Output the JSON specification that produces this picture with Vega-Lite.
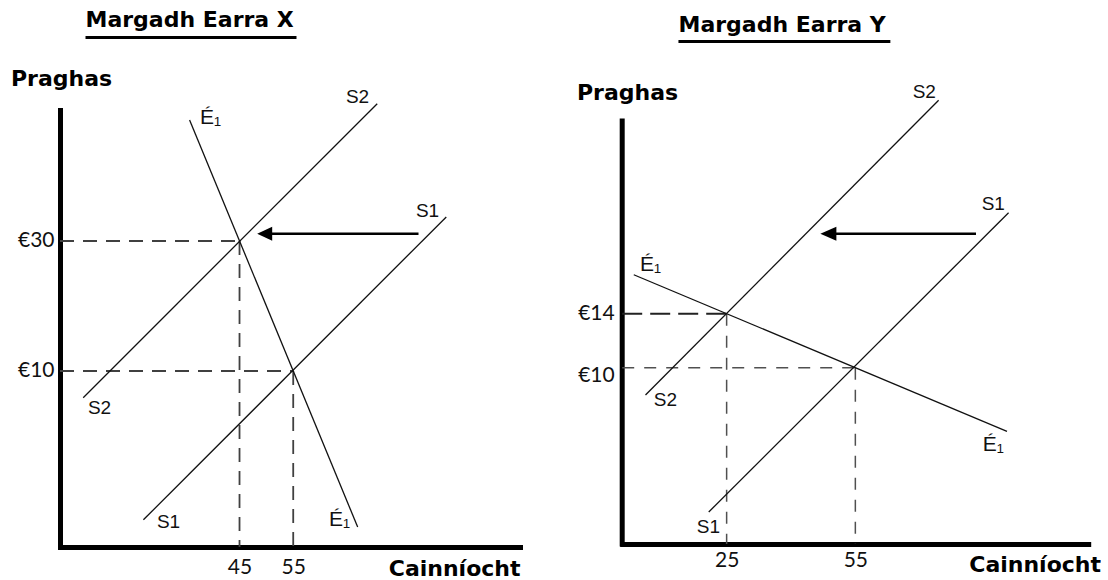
{
  "$schema": "https://vega.github.io/schema/vega-lite/v6.json",
  "background": "white",
  "padding": {"left": 10, "top": 8, "right": 0, "bottom": 0},
  "bounds": "flush",
  "spacing": 102.2,
  "config": {"view": {"stroke": null}},
  "datasets": {
    "curvesX": [
      {"line": "S2", "q": 15.89, "p": 5.89}, {"line": "S2", "q": 70.64, "p": 51.12},
      {"line": "S1", "q": 27.1, "p": -12.9}, {"line": "S1", "q": 83.5, "p": 33.7},
      {"line": "E1", "q": 35.7, "p": 48.6}, {"line": "E1", "q": 67.0, "p": -14.0}
    ],
    "guidesX": [
      {"line": "h30", "q": 11.57, "p": 30}, {"line": "h30", "q": 45, "p": 30},
      {"line": "v45", "q": 45, "p": 30}, {"line": "v45", "q": 45, "p": -17.08},
      {"line": "h10", "q": 11.57, "p": 10}, {"line": "h10", "q": 55, "p": 10},
      {"line": "v55", "q": 55, "p": 10}, {"line": "v55", "q": 55, "p": -17.08}
    ],
    "arrowX": [{"q": 78.33, "p": 31.12, "end": "tail"}, {"q": 49.69, "p": 31.12, "end": "head"}],
    "labelsX": [
      {"text": "É₁", "q": 39.6, "p": 48.92, "kind": "E"},
      {"text": "S2", "q": 66.97, "p": 52.15, "kind": "S"},
      {"text": "S1", "q": 80.01, "p": 34.62, "kind": "S"},
      {"text": "S2", "q": 18.93, "p": 4.31, "kind": "S"},
      {"text": "S1", "q": 31.78, "p": -13.23, "kind": "S"},
      {"text": "É₁", "q": 63.62, "p": -12.92, "kind": "E"}
    ],
    "underlineX": [{"q": 16.32, "q2": 55.61, "p": 61.31}],
    "curvesY": [
      {"line": "S2", "q": 6.09, "p": 7.98}, {"line": "S2", "q": 74.41, "p": 29.81},
      {"line": "S1", "q": 20.83, "p": -0.69}, {"line": "S1", "q": 90.71, "p": 21.48},
      {"line": "E1", "q": 3.36, "p": 16.885}, {"line": "E1", "q": 90.34, "p": 5.29}
    ],
    "guidesY": [
      {"line": "h14", "q": 0.66, "p": 14}, {"line": "h14", "q": 25, "p": 14},
      {"line": "v25", "q": 25, "p": 14}, {"line": "v25", "q": 25, "p": -3.06},
      {"line": "h10", "q": 0.66, "p": 10}, {"line": "h10", "q": 55, "p": 10},
      {"line": "v55", "q": 55, "p": 10}, {"line": "v55", "q": 55, "p": -3.06}
    ],
    "arrowY": [{"q": 83.12, "p": 19.93, "end": "tail"}, {"q": 48.71, "p": 19.93, "end": "head"}],
    "labelsY": [
      {"text": "S2", "q": 71.07, "p": 30.42, "kind": "S"},
      {"text": "S1", "q": 87.15, "p": 22.13, "kind": "S"},
      {"text": "É₁", "q": 7.25, "p": 17.61, "kind": "E"},
      {"text": "S2", "q": 10.74, "p": 7.61, "kind": "S"},
      {"text": "É₁", "q": 87.15, "p": 4.27, "kind": "E"},
      {"text": "S1", "q": 20.76, "p": -1.8, "kind": "S"}
    ],
    "underlineY": [{"q": 13.77, "q2": 63.16, "p": 34.16}],
    "axisLineY": [{"q": 0.66, "p": -3.06, "p2": 28.27}]
  },
  "hconcat": [
    {
      "width": 460,
      "height": 437,
      "title": {"text": "Margadh Earra X", "anchor": "start", "frame": "group", "dx": 25.5, "offset": -13, "baseline": "alphabetic", "font": "DejaVu Sans", "fontSize": 22, "fontWeight": "bold", "color": "#000"},
      "encoding": {
        "x": {"field": "q", "type": "quantitative",
          "scale": {"domain": [11.57, 97.23], "nice": false, "zero": false},
          "axis": {"values": [45, 55], "title": "Cainníocht", "ticks": false, "grid": false,
            "domainWidth": 5, "domainColor": "#000", "domainCap": "square",
            "labelFont": "Lato", "labelFontSize": 21, "labelColor": "#111", "labelPadding": 9,
            "titleFont": "DejaVu Sans", "titleFontSize": 22, "titleFontWeight": "bold", "titleColor": "#000",
            "titleAlign": "right", "titleBaseline": "alphabetic", "titleX": 460, "titleY": 28}},
        "y": {"field": "p", "type": "quantitative",
          "scale": {"domain": [-17.08, 50.15], "nice": false, "zero": false},
          "axis": {"values": [10, 30], "labelExpr": "'€' + datum.label", "title": "Praghas", "ticks": false, "grid": false,
            "domainWidth": 5, "domainColor": "#000", "domainCap": "square",
            "labelFont": "Lato", "labelFontSize": 21, "labelColor": "#111", "labelPadding": 6,
            "titleFont": "DejaVu Sans", "titleFontSize": 22, "titleFontWeight": "bold", "titleColor": "#000",
            "titleAngle": 0, "titleAlign": "left", "titleBaseline": "alphabetic", "titleX": -49.5, "titleY": -25}}
      },
      "layer": [
        {"data": {"name": "guidesX"}, "mark": {"type": "line", "color": "#404040", "strokeWidth": 1.8, "strokeDash": [14, 9]},
          "encoding": {"detail": {"field": "line"}}},
        {"data": {"name": "curvesX"}, "mark": {"type": "line", "color": "#111", "strokeWidth": 1.3},
          "encoding": {"detail": {"field": "line"}}},
        {"data": {"name": "arrowX"}, "mark": {"type": "line", "color": "#000", "strokeWidth": 2.5},
          "encoding": {}},
        {"data": {"name": "arrowX"}, "transform": [{"filter": "datum.end == 'head'"}],
          "mark": {"type": "point", "shape": "M-1,0L1,-0.93L1,0.93Z", "size": 225, "filled": true, "color": "#000", "opacity": 1},
          "encoding": {}},
        {"data": {"name": "labelsX"}, "mark": {"type": "text", "align": "center", "baseline": "middle", "color": "#111"},
          "encoding": {"text": {"field": "text"},
            "font": {"condition": {"test": "datum.kind == 'E'", "value": "DejaVu Sans"}, "value": "Lato"},
            "size": {"condition": {"test": "datum.kind == 'E'", "value": 21}, "value": 19}}},
        {"data": {"name": "underlineX"}, "mark": {"type": "rule", "color": "#000", "strokeWidth": 3},
          "encoding": {"x2": {"field": "q2"}}}
      ]
    },
    {
      "width": 466,
      "height": 434,
      "title": {"text": "Margadh Earra Y", "anchor": "start", "frame": "group", "dx": 56.3, "offset": -13.5, "baseline": "alphabetic", "font": "DejaVu Sans", "fontSize": 22, "fontWeight": "bold", "color": "#000"},
      "encoding": {
        "x": {"field": "q", "type": "quantitative",
          "scale": {"domain": [0.66, 109.27], "nice": false, "zero": false},
          "axis": {"values": [25, 55], "title": "Cainníocht", "ticks": false, "grid": false,
            "domainWidth": 5, "domainColor": "#000", "domainCap": "square",
            "labelFont": "Lato", "labelFontSize": 21, "labelColor": "#111", "labelPadding": 5,
            "titleFont": "DejaVu Sans", "titleFontSize": 22, "titleFontWeight": "bold", "titleColor": "#000",
            "titleAlign": "right", "titleBaseline": "alphabetic", "titleX": 478.3, "titleY": 27}},
        "y": {"field": "p", "type": "quantitative",
          "scale": {"domain": [-3.06, 29.09], "nice": false, "zero": false},
          "axis": {"values": [10, 14], "labelExpr": "'€' + datum.label", "title": "Praghas", "ticks": false, "grid": false,
            "domain": false,
            "labelFont": "Lato", "labelFontSize": 21, "labelColor": "#111", "labelPadding": 8,
            "labelOffset": {"condition": {"test": "datum.value == 10", "value": 8}, "value": 0},
            "titleFont": "DejaVu Sans", "titleFontSize": 22, "titleFontWeight": "bold", "titleColor": "#000",
            "titleAngle": 0, "titleAlign": "left", "titleBaseline": "alphabetic", "titleX": -45.7, "titleY": -11}}
      },
      "layer": [
        {"data": {"name": "axisLineY"}, "mark": {"type": "rule", "color": "#000", "strokeWidth": 5, "strokeCap": "square"},
          "encoding": {"y2": {"field": "p2"}}},
        {"data": {"name": "guidesY"}, "transform": [{"filter": "datum.line == 'h14'"}],
          "mark": {"type": "line", "color": "#222", "strokeWidth": 2, "strokeDash": [20, 8]},
          "encoding": {"detail": {"field": "line"}}},
        {"data": {"name": "guidesY"}, "transform": [{"filter": "datum.line != 'h14'"}],
          "mark": {"type": "line", "color": "#505050", "strokeWidth": 1.5, "strokeDash": [12, 10]},
          "encoding": {"detail": {"field": "line"}}},
        {"data": {"name": "curvesY"}, "mark": {"type": "line", "color": "#111", "strokeWidth": 1.3},
          "encoding": {"detail": {"field": "line"}}},
        {"data": {"name": "arrowY"}, "mark": {"type": "line", "color": "#000", "strokeWidth": 2.5},
          "encoding": {}},
        {"data": {"name": "arrowY"}, "transform": [{"filter": "datum.end == 'head'"}],
          "mark": {"type": "point", "shape": "M-1,0L1,-0.875L1,0.875Z", "size": 256, "filled": true, "color": "#000", "opacity": 1},
          "encoding": {}},
        {"data": {"name": "labelsY"}, "mark": {"type": "text", "align": "center", "baseline": "middle", "color": "#111"},
          "encoding": {"text": {"field": "text"},
            "font": {"condition": {"test": "datum.kind == 'E'", "value": "DejaVu Sans"}, "value": "Lato"},
            "size": {"condition": {"test": "datum.kind == 'E'", "value": 21}, "value": 19}}},
        {"data": {"name": "underlineY"}, "mark": {"type": "rule", "color": "#000", "strokeWidth": 3},
          "encoding": {"x2": {"field": "q2"}}}
      ]
    }
  ]
}
